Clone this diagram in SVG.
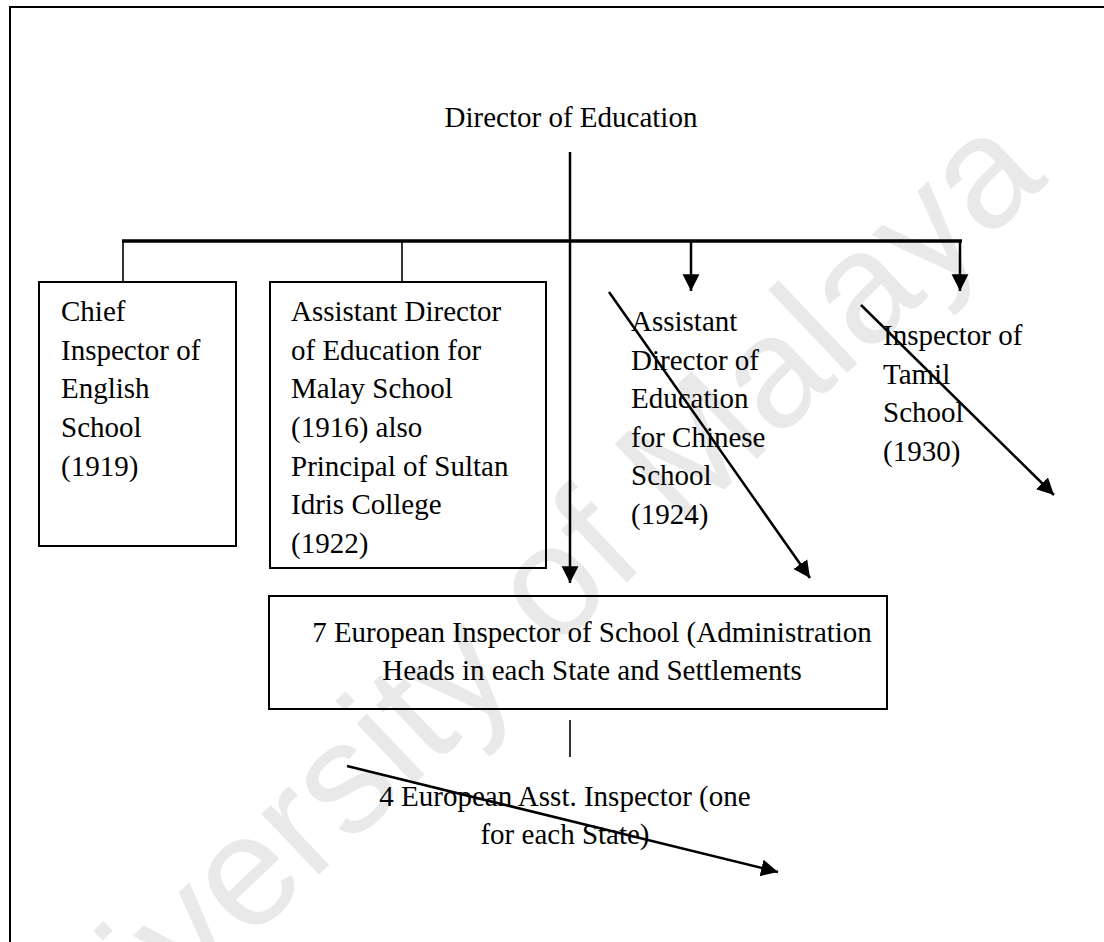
<svg xmlns="http://www.w3.org/2000/svg" width="1104" height="942" viewBox="0 0 1104 942">
<style>
.t{font-family:"Liberation Serif","Times New Roman",serif;font-size:29px;fill:#000}
.box{fill:none;stroke:#000;stroke-width:2}
.ln{stroke:#000;stroke-width:2.5;fill:none}
.thin{stroke:#000;stroke-width:1.6;fill:none}
.wm{font-family:"Liberation Sans",Arial,sans-serif;font-size:158px;fill:#e9e9e9}
</style>
<defs>
<marker id="ah" markerUnits="userSpaceOnUse" markerWidth="18" markerHeight="18" viewBox="0 0 16 16" refX="15" refY="8" orient="auto">
<path d="M0,0.5 L15,8 L0,15.5 Z" fill="#000"/>
</marker>
</defs>
<rect width="1104" height="942" fill="#fff"/>
<text class="wm" transform="translate(18,1160) rotate(-43.5)">University of Malaya</text>
<g id="frame">
<path d="M10,942 V7 H1104" fill="none" stroke="#000" stroke-width="2"/>
</g>
<g id="connectors">
<line class="ln" x1="570" y1="152" x2="570" y2="583" marker-end="url(#ah)"/>
<line x1="122" y1="241" x2="962" y2="241" stroke="#000" stroke-width="3.6"/>
<line class="thin" x1="123" y1="241" x2="123" y2="282"/>
<line class="thin" x1="402" y1="241" x2="402" y2="282"/>
<line class="ln" x1="691" y1="241" x2="691" y2="291" marker-end="url(#ah)"/>
<line class="ln" x1="960" y1="241" x2="960" y2="291" marker-end="url(#ah)"/>
<line class="ln" x1="609" y1="292" x2="810" y2="578" marker-end="url(#ah)"/>
<line class="ln" x1="861" y1="305" x2="1054" y2="495" marker-end="url(#ah)"/>
<line class="thin" x1="570" y1="720" x2="570" y2="757"/>
<line class="ln" x1="347" y1="766" x2="778" y2="872" marker-end="url(#ah)"/>
</g>
<g id="director">
<text class="t" x="571" y="127" text-anchor="middle">Director of Education</text>
</g>
<g id="chief-inspector-english">
<rect class="box" x="39" y="282" width="197" height="264"/>
<text class="t" x="61" y="321">Chief</text>
<text class="t" x="61" y="360">Inspector of</text>
<text class="t" x="61" y="398">English</text>
<text class="t" x="61" y="437">School</text>
<text class="t" x="61" y="476">(1919)</text>
</g>
<g id="asst-director-malay">
<rect class="box" x="270" y="282" width="276" height="286"/>
<text class="t" x="291" y="321">Assistant Director</text>
<text class="t" x="291" y="360">of Education for</text>
<text class="t" x="291" y="398">Malay School</text>
<text class="t" x="291" y="437">(1916) also</text>
<text class="t" x="291" y="476">Principal of Sultan</text>
<text class="t" x="291" y="514">Idris College</text>
<text class="t" x="291" y="553">(1922)</text>
</g>
<g id="asst-director-chinese">
<text class="t" x="631" y="331">Assistant</text>
<text class="t" x="631" y="370">Director of</text>
<text class="t" x="631" y="408">Education</text>
<text class="t" x="631" y="447">for Chinese</text>
<text class="t" x="631" y="485">School</text>
<text class="t" x="631" y="524">(1924)</text>
</g>
<g id="inspector-tamil">
<text class="t" x="883" y="345">Inspector of</text>
<text class="t" x="883" y="384">Tamil</text>
<text class="t" x="883" y="422">School</text>
<text class="t" x="883" y="461">(1930)</text>
</g>
<g id="european-inspector">
<rect class="box" x="269" y="596" width="618" height="113"/>
<text class="t" x="592" y="642" text-anchor="middle">7 European Inspector of School (Administration</text>
<text class="t" x="592" y="680" text-anchor="middle">Heads in each State and Settlements</text>
</g>
<g id="european-asst-inspector">
<text class="t" x="565" y="806" text-anchor="middle">4 European Asst. Inspector (one</text>
<text class="t" x="565" y="844" text-anchor="middle">for each State)</text>
</g>
</svg>
